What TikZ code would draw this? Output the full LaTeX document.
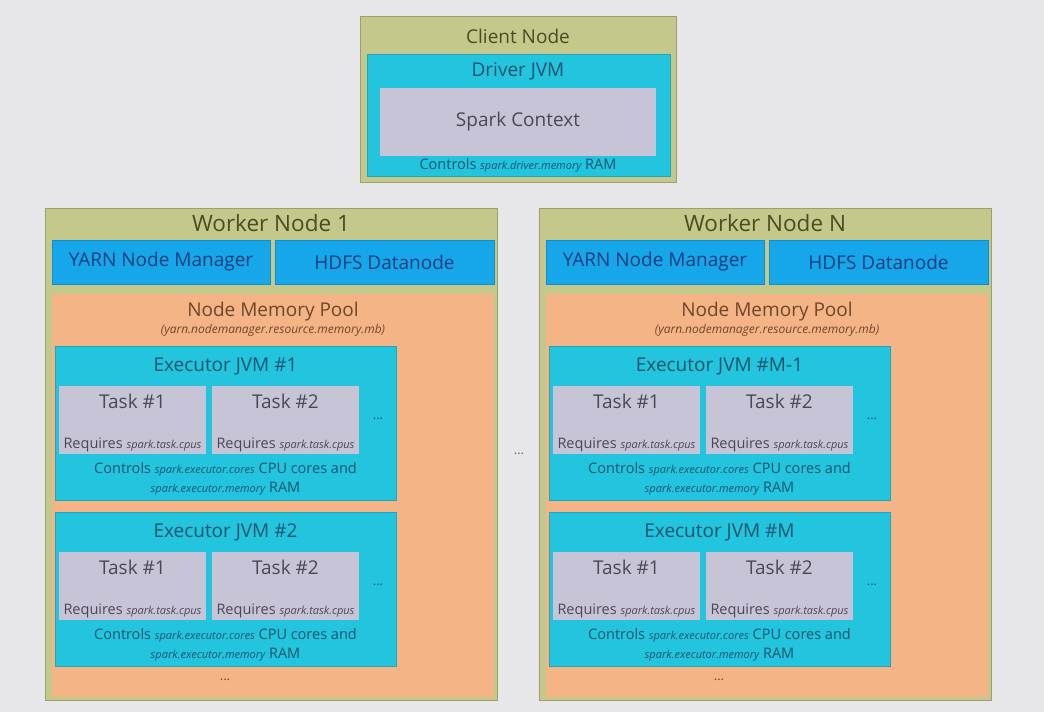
\documentclass[tikz,border=0pt]{standalone}
\usepackage{fontspec}
\setmainfont{Open Sans}
\usetikzlibrary{calc}
\definecolor{bgfill}{RGB}{231,231,233}
\definecolor{olivefill}{RGB}{196,200,138}
\definecolor{olivetext}{RGB}{74,76,36}
\definecolor{cyanfill}{RGB}{34,196,222}
\definecolor{cyantext}{RGB}{22,84,112}
\definecolor{bluefill}{RGB}{22,166,234}
\definecolor{bluetext}{RGB}{18,62,128}
\definecolor{poolfill}{RGB}{245,180,134}
\definecolor{pooltext}{RGB}{112,70,42}
\definecolor{taskfill}{RGB}{200,196,216}
\definecolor{tasktext}{RGB}{72,72,86}
\newcommand{\cfg}[1]{{\fontsize{11}{13}\selectfont\itshape #1}}

\begin{document}
\begin{tikzpicture}[x=1pt,y=-1pt,
  every node/.style={inner sep=0pt},
  olivebox/.style={fill=olivefill,draw=olivefill!80!black,line width=0.6pt},
  cyanbox/.style={fill=cyanfill,draw=cyanfill!85!black,line width=0.5pt},
  bluebox/.style={fill=bluefill,draw=bluefill!85!black,line width=0.5pt,
    minimum width=218pt,minimum height=44pt,font=\fontsize{19}{22}\selectfont,text=bluetext},
  poolbox/.style={fill=poolfill},
  taskbox/.style={fill=taskfill},
  title/.style={font=\fontsize{19}{22}\selectfont},
  small/.style={font=\fontsize{14.5}{19}\selectfont,align=center},
  dots/.style={font=\fontsize{13}{15}\selectfont}]
  \useasboundingbox[fill=bgfill] (0,0) rectangle (1044,712);

  % client node
  \node[olivebox,minimum width=316pt,minimum height=166pt] (client) at (518,99) {};
  \node[title,text=olivetext] (clientname) at (518,36) {Client Node};
  \node[cyanbox,minimum width=303pt,minimum height=122pt] (driver) at (518.5,115) {};
  \node[title,text=cyantext] (drivername) at (518,71) {Driver JVM};
  \node[taskbox,title,text=tasktext,minimum width=276pt,minimum height=68pt] (context) at (518,122) {Spark Context};
  \node[small,text=cyantext] (drivermem) at (518,165) {Controls \cfg{spark.driver.memory} RAM};

  % worker nodes
  \foreach \dx/\w/\na/\nb/\id in {0/1/1/2/a,494/N/M-1/M/b} {
    \begin{scope}[shift={(\dx,0)}]
      \node[olivebox,minimum width=452pt,minimum height=492pt] (worker\id) at (271,454) {};
      \node[title,font=\fontsize{22.5}{26}\selectfont,text=olivetext] (workername\id) at (271,223) {Worker Node \w};
      \node[bluebox] (yarn\id) at (161,262) {YARN Node Manager};
      \node[bluebox,minimum width=219pt] (hdfs\id) at (384.5,262) {HDFS Datanode};
      \node[poolbox,minimum width=442pt,minimum height=403pt] (pool\id) at (273,495.5) {};
      \node[title,text=pooltext] (poolname\id) at (273,312) {Node Memory Pool};
      \node[text=pooltext,font=\fontsize{12}{14}\selectfont\itshape] (poolmem\id) at (273,330) {(yarn.nodemanager.resource.memory.mb)};
      \foreach \dy/\e/\k in {0/\na/1,166/\nb/2} {
        \node[cyanbox,minimum width=341pt,minimum height=154pt] (exec\id\k) at (225.5,423+\dy) {};
        \node[title,text=cyantext] (execname\id\k) at (225.5,366+\dy) {Executor JVM \#\e};
        \foreach \tx/\t in {0/1,153/2} {
          \node[taskbox,minimum width=147pt,minimum height=68pt] (task\id\k\t) at (132.5+\tx,420+\dy) {};
          \node[title,text=tasktext] at (132.5+\tx,401+\dy) {Task \#\t};
          \node[small,text=tasktext] at (132.5+\tx,445+\dy) {Requires \cfg{spark.task.cpus}};
        }
        \node[dots,text=cyantext] (more\id\k) at (378,419+\dy) {...};
        \node[small,text=cyantext] (execmem\id\k) at (225.5,478.5+\dy)
          {Controls \cfg{spark.executor.cores} CPU cores and\\\cfg{spark.executor.memory} RAM};
      }
      \node[dots,text=pooltext] (moreexec\id) at (225,680) {...};
    \end{scope}
  }
  \node[dots,text=black!60] (moreworkers) at (519,454) {...};
\end{tikzpicture}
\end{document}
